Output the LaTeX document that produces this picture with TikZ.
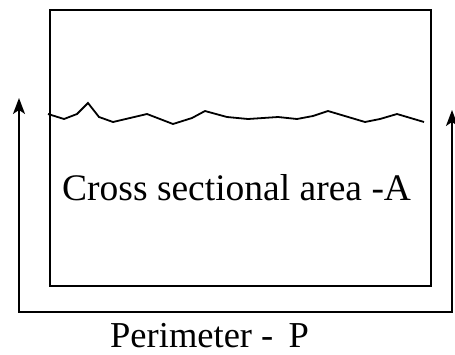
\documentclass[tikz,border=0pt]{standalone}
\usepackage{fontspec}
\setmainfont{Liberation Serif}
\usetikzlibrary{arrows.meta,positioning}

\begin{document}
\begin{tikzpicture}[
    x=1pt, y=-1pt,
    section/.style={draw, line width=1.8pt, rectangle, inner sep=0pt, minimum width=381pt, minimum height=276pt},
    surface/.style={line width=1.8pt, line join=miter},
    arrow/.style={{Stealth[length=16pt, width=12pt, inset=4pt]}-{Stealth[length=16pt, width=12pt, inset=4pt]}, line width=1.8pt},
    label_node/.style={inner sep=0pt, font=\fontsize{37.5}{42}\selectfont}
]
    \useasboundingbox (0,0) rectangle (455,354);

    % Channel cross section
    \node[section, anchor=north west] (channel) at (49,9) {};

    % Water surface
    \draw[surface] (48,114) -- (64,119) -- (77,114) -- (88,103) -- (99,117) -- (113,122)
        -- (147,114) -- (173,124) -- (192,118) -- (205,111) -- (227,117) -- (248,119)
        -- (278,117) -- (297,119) -- (313,116) -- (328,111) -- (365,122) -- (380,119)
        -- (397,114) -- (424,122);

    % Perimeter ends
    \coordinate (pleft) at (19,98);
    \coordinate (pright) at (452,110);
    \draw[arrow] (pleft) -- (pleft |- 0,312) -- (pright |- 0,312) -- (pright);

    % Labels
    \node[label_node, anchor=base west] (area) at (62,200) {Cross sectional area -A};
    \node[label_node, anchor=base west, font=\fontsize{36.5}{41}\selectfont] (perim) at (110,347) {Perimeter - \,P};

\end{tikzpicture}
\end{document}
